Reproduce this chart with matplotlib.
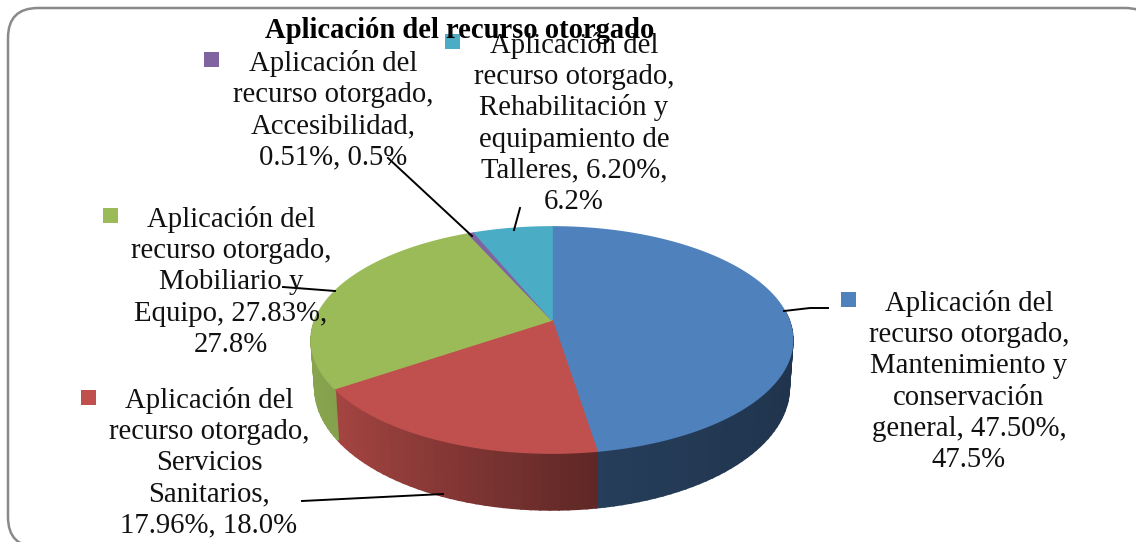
import numpy as np
import matplotlib
matplotlib.use("Agg")
import matplotlib.pyplot as plt
from matplotlib.patches import FancyBboxPatch, Rectangle

title = "Aplicación del recurso otorgado"
values = [47.50, 17.96, 27.83, 0.51, 6.20]
colors = ["#4F81BD", "#C0504D", "#9BBB59", "#8064A2", "#4BACC6"]
labels = [
    ["Aplicación del", "recurso otorgado,", "Mantenimiento y", "conservación", "general, 47.50%,", "47.5%"],
    ["Aplicación del", "recurso otorgado,", "Servicios", "Sanitarios,", "17.96%, 18.0%"],
    ["Aplicación del", "recurso otorgado,", "Mobiliario y", "Equipo, 27.83%,", "27.8%"],
    ["Aplicación del", "recurso otorgado,", "Accesibilidad,", "0.51%, 0.5%"],
    ["Aplicación del", "recurso otorgado,", "Rehabilitación y", "equipamiento de", "Talleres, 6.20%,", "6.2%"],
]
# label layout in pixels: text centre, first baseline, legend key corner
label_x = [969, 209, 231, 333, 574]
label_y = [311, 408, 227, 71, 53]
key_xy = [(841, 292), (81, 390), (103, 208), (204, 52), (445, 34)]
leaders = [
    [(784, 311), (810, 308), (828, 308)],
    [(302, 501), (443, 494)],
    [(283, 287), (335, 291)],
    [(388, 158), (472, 236)],
    [(514, 230), (520, 208)],
]

# perspective of the pie in pixels
CX, CY = 552, 320
A, B, K = 236.8, 109.5, 0.177
WALL_SY, WALL_SX, WALL_D = 1.08, 0.985, 46
FONT = "Liberation Serif"
FS = 20.7
LINE = 31.2


def project(theta):
    x, y = np.sin(theta), np.cos(theta)
    w = 1 + K * y
    return A * x / w, -B * y / w


def top_xy(theta):
    px, py = project(theta)
    return CX + px, CY + py


def bottom_xy(theta):
    px, py = project(theta)
    return CX + px * WALL_SX, CY + py * WALL_SY + WALL_D


def wall_shade(theta):
    return np.interp(np.sin(theta), [-1, -0.83, 0.156, 0.157, 1], [0.88, 0.86, 0.49, 0.48, 0.40])


def main():
    fig = plt.figure(figsize=(11.36, 5.42), dpi=100)
    ax = fig.add_axes([0, 0, 1, 1])
    ax.set_xlim(0, 1136)
    ax.set_ylim(542, 0)
    ax.axis("off")

    ax.add_patch(FancyBboxPatch((36, 36), 1091, 483, boxstyle="round,pad=28,rounding_size=30",
                                fc="white", ec="#8A8A8A", lw=1.8))

    edges = 2 * np.pi * np.concatenate([[0], np.cumsum(values)]) / 100
    base = [np.array(matplotlib.colors.to_rgb(c)) for c in colors]

    # side walls first, only the front ones, top face covers the rest
    for i in range(len(values)):
        steps = np.linspace(edges[i], edges[i + 1], max(3, int(values[i] * 2)))
        for a, b in zip(steps[:-1], steps[1:]):
            if np.cos(a) > 0.05 and np.cos(b) > 0.05:
                continue
            ts = np.linspace(a, b, 4)
            tx, ty = top_xy(ts)
            bx, by = bottom_xy(ts[::-1])
            c = base[i] * wall_shade((a + b) / 2)
            ax.fill(np.r_[tx, bx], np.r_[ty, by], color=c, lw=1.5, zorder=2)

    for i in range(len(values)):
        ts = np.linspace(edges[i], edges[i + 1], 200)
        tx, ty = top_xy(ts)
        ax.fill(np.r_[CX, tx], np.r_[CY, ty], color=colors[i], lw=1.2, zorder=3)

    for pts in leaders:
        xs, ys = zip(*pts)
        ax.plot(xs, ys, color="black", lw=1.4, zorder=5)

    for i in range(len(values)):
        ax.add_patch(Rectangle(key_xy[i], 15, 15, fc=colors[i], ec="none", zorder=4))
        for n, line in enumerate(labels[i]):
            ax.text(label_x[i], label_y[i] + n * LINE, line, ha="center", va="baseline",
                    family=FONT, fontsize=FS, color="#111111", zorder=6)

    ax.text(460, 38.5, title, ha="center", va="baseline", family=FONT, fontsize=20.6,
            fontweight="bold", color="black", zorder=6)

    fig.savefig("out.png", dpi=100)


if __name__ == "__main__":
    main()
